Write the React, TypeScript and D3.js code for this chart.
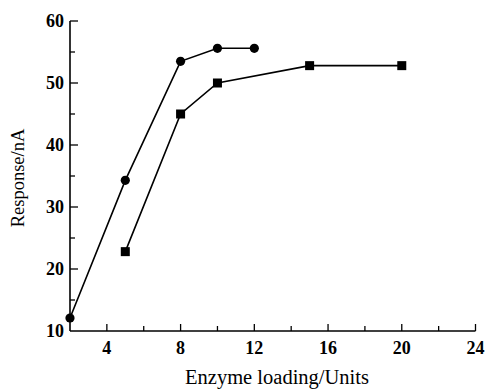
import React, { useEffect, useRef } from 'react';
import * as d3 from 'd3';

// circle series
const circleX = [2, 5, 8, 10, 12];
const circleY = [12.1, 34.3, 53.5, 55.6, 55.6];
// square series
const squareX = [5, 8, 10, 15, 20];
const squareY = [22.8, 45, 50, 52.8, 52.8];

const xTicks = [4, 8, 12, 16, 20, 24];
const yTicks = [10, 20, 30, 40, 50, 60];

const App: React.FC = () => {
  const svgRef = useRef<SVGSVGElement | null>(null);

  useEffect(() => {
    if (!svgRef.current) return;
    const width = 486;
    const height = 389;
    const svg = d3.select(svgRef.current);
    svg.selectAll('*').remove();

    const x = d3.scaleLinear().domain([2, 24]).range([70, 475.5]);
    const y = d3.scaleLinear().domain([10, 60]).range([331, 21]);
    const font = '"Liberation Serif", "Times New Roman", serif';

    // axes lines
    svg.append('line')
      .attr('x1', x(2)).attr('x2', x(24))
      .attr('y1', y(10)).attr('y2', y(10))
      .attr('stroke', '#000').attr('stroke-width', 1.6);
    svg.append('line')
      .attr('x1', x(2)).attr('x2', x(2))
      .attr('y1', y(10)).attr('y2', y(60))
      .attr('stroke', '#000').attr('stroke-width', 1.6);

    // x ticks (inward)
    const xMinor = d3.range(2, 25, 2).filter(v => v > 2);
    svg.append('g').selectAll('line').data(xMinor).join('line')
      .attr('x1', d => x(d)).attr('x2', d => x(d))
      .attr('y1', y(10))
      .attr('y2', d => y(10) - (d % 4 === 0 ? 7 : 5))
      .attr('stroke', '#000').attr('stroke-width', 1.3);

    // y ticks (inward)
    const yMinor = d3.range(15, 61, 5);
    svg.append('g').selectAll('line').data(yMinor).join('line')
      .attr('x1', x(2))
      .attr('x2', d => x(2) + (d % 10 === 0 ? 8 : 5))
      .attr('y1', d => y(d)).attr('y2', d => y(d))
      .attr('stroke', '#000').attr('stroke-width', 1.3);

    // tick labels
    svg.append('g')
      .attr('font-family', font).attr('font-size', 18).attr('font-weight', 'bold')
      .attr('text-anchor', 'middle')
      .selectAll('text').data(xTicks).join('text')
      .attr('x', d => x(d)).attr('y', y(10) + 23)
      .text(d => d);

    svg.append('g')
      .attr('font-family', font).attr('font-size', 18).attr('font-weight', 'bold')
      .attr('text-anchor', 'end')
      .selectAll('text').data(yTicks).join('text')
      .attr('x', x(2) - 6).attr('y', d => y(d)).attr('dy', '0.35em')
      .text(d => d);

    // axis titles
    svg.append('text')
      .attr('font-family', font).attr('font-size', 20.5)
      .attr('text-anchor', 'middle')
      .attr('x', 277).attr('y', 384)
      .text('Enzyme loading/Units');

    svg.append('text')
      .attr('font-family', font).attr('font-size', 18.5)
      .attr('text-anchor', 'middle')
      .attr('transform', 'translate(24,178) rotate(-90)')
      .text('Response/nA');

    const line = d3.line<[number, number]>()
      .x(d => x(d[0])).y(d => y(d[1]));

    const circles: [number, number][] = circleX.map((v, i) => [v, circleY[i]]);
    const squares: [number, number][] = squareX.map((v, i) => [v, squareY[i]]);

    svg.append('path').datum(circles)
      .attr('d', line).attr('fill', 'none')
      .attr('stroke', '#000').attr('stroke-width', 1.6);
    svg.append('path').datum(squares)
      .attr('d', line).attr('fill', 'none')
      .attr('stroke', '#000').attr('stroke-width', 1.6);

    svg.append('g').selectAll('circle').data(circles).join('circle')
      .attr('cx', d => x(d[0])).attr('cy', d => y(d[1]))
      .attr('r', 4.6).attr('fill', '#000');

    const s = 9;
    svg.append('g').selectAll('rect').data(squares).join('rect')
      .attr('x', d => x(d[0]) - s / 2).attr('y', d => y(d[1]) - s / 2)
      .attr('width', s).attr('height', s).attr('fill', '#000');

    svg.attr('width', width).attr('height', height);
  }, []);

  return (
    <svg
      ref={svgRef}
      style={{ position: 'absolute', left: 0, top: 0, background: '#fff' }}
    />
  );
};

export default App;
